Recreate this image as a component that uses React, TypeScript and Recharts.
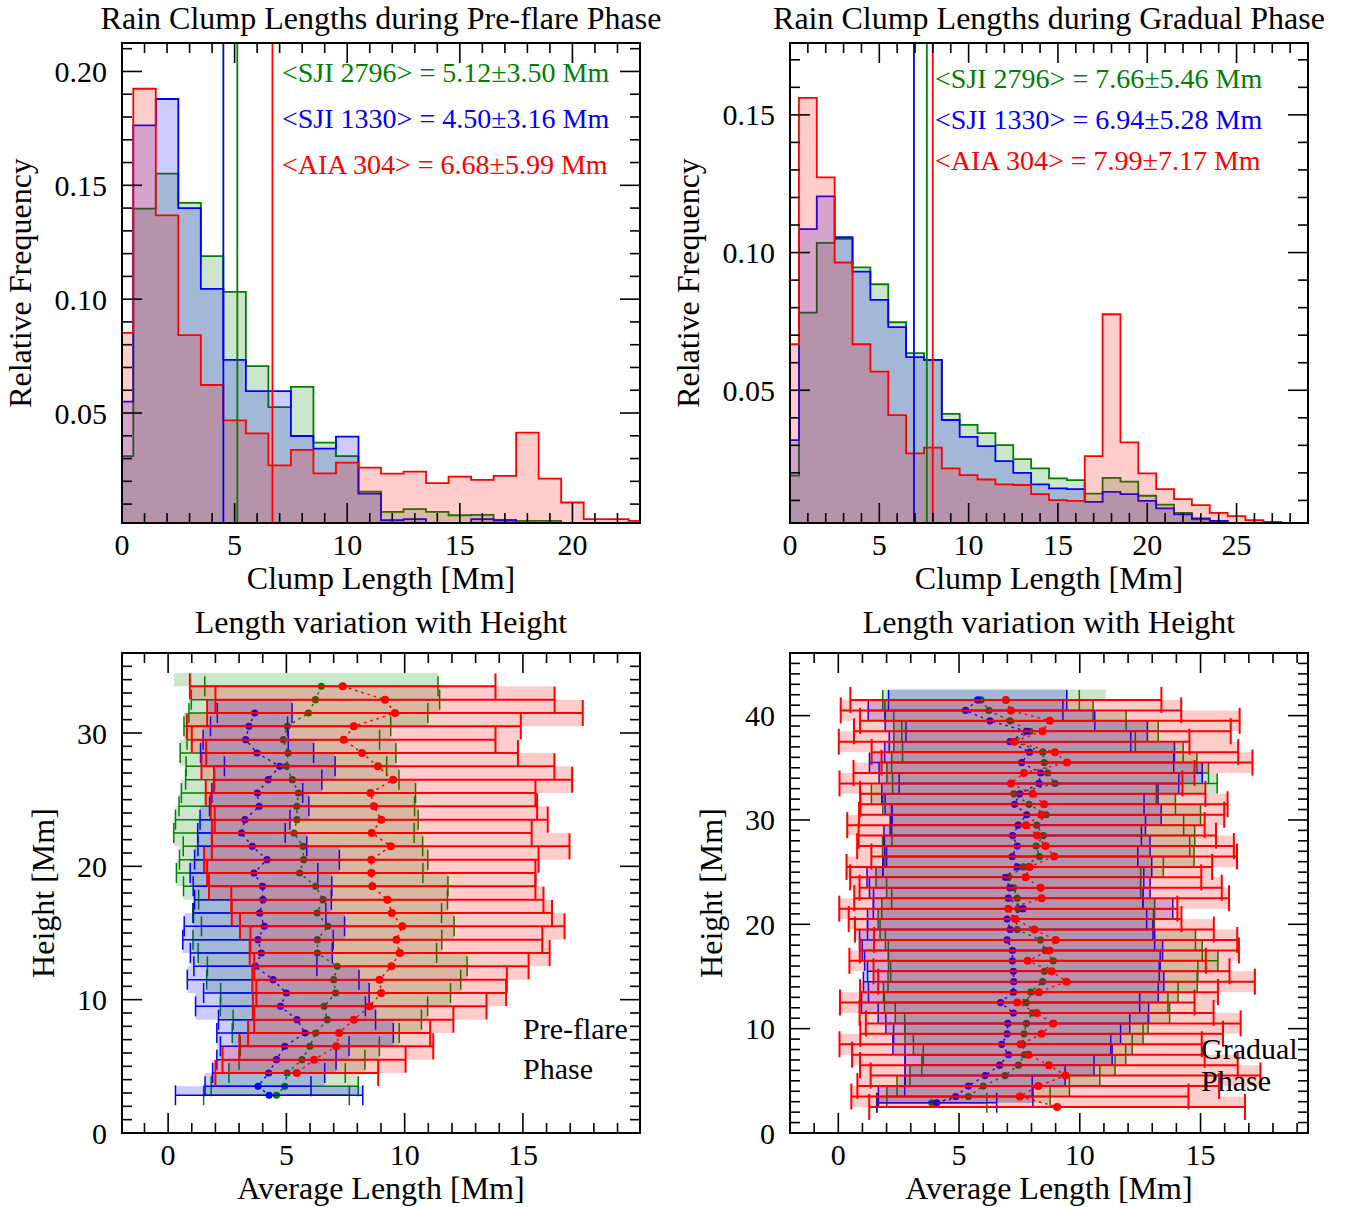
import React from 'react';
import { ComposedChart, Area, XAxis, YAxis, ReferenceLine, ReferenceArea, Scatter, ErrorBar } from 'recharts';

const RED = '#ff0000';
const BLUE = '#0000ff';
const GREEN = '#008000';
const SERIF = '"Liberation Serif", "Times New Roman", Times, serif';

// ---------------- Histogram data (bins centred on integer Mm, width 1 Mm) ----------------
const preGreen = [0.0311, 0.1398, 0.1551, 0.1423, 0.1189, 0.1032, 0.0706, 0.0526, 0.0615, 0.0370, 0.0311, 0.0155, 0.0066, 0.0078, 0.0066, 0.0051, 0.0053, 0.0029, 0.0026, 0.0026];
const preBlue = [0.0550, 0.1763, 0.1879, 0.1400, 0.1045, 0.0733, 0.0596, 0.0596, 0.0399, 0.0344, 0.0396, 0.0146, 0.0029, 0.0034, 0.0010, 0.0010, 0.0034, 0.0029];
const preRed = [0.0852, 0.1924, 0.1368, 0.0842, 0.0623, 0.0468, 0.0411, 0.0270, 0.0338, 0.0235, 0.0282, 0.0260, 0.0234, 0.0243, 0.0192, 0.0221, 0.0206, 0.0224, 0.0414, 0.0212, 0.0107, 0.0034, 0.0034, 0.0026];

const gradGreen = [0.0190, 0.0782, 0.1035, 0.1050, 0.0946, 0.0885, 0.0747, 0.0635, 0.0610, 0.0414, 0.0374, 0.0344, 0.0301, 0.0250, 0.0216, 0.0180, 0.0174, 0.0125, 0.0182, 0.0168, 0.0117, 0.0085, 0.0055, 0.0031, 0.0026];
const gradBlue = [0.0319, 0.1085, 0.1204, 0.1056, 0.0931, 0.0828, 0.0729, 0.0620, 0.0610, 0.0392, 0.0331, 0.0297, 0.0243, 0.0200, 0.0158, 0.0144, 0.0141, 0.0095, 0.0131, 0.0123, 0.0098, 0.0071, 0.0049, 0.0035, 0.0026];
const gradRed = [0.0667, 0.1562, 0.1273, 0.0964, 0.0667, 0.0568, 0.0410, 0.0271, 0.0292, 0.0216, 0.0192, 0.0176, 0.0158, 0.0156, 0.0123, 0.0101, 0.0098, 0.0261, 0.0776, 0.0311, 0.0198, 0.0141, 0.0105, 0.0083, 0.0055, 0.0043, 0.0028, 0.0022];

const preMeans = { green: 5.12, blue: 4.50, red: 6.68 };
const gradMeans = { green: 7.66, blue: 6.94, red: 7.99 };
const preNotes = ['<SJI 2796> = 5.12±3.50 Mm', '<SJI 1330> = 4.50±3.16 Mm', '<AIA 304> = 6.68±5.99 Mm'];
const gradNotes = ['<SJI 2796> = 7.66±5.46 Mm', '<SJI 1330> = 6.94±5.28 Mm', '<AIA 304> = 7.99±7.17 Mm'];

// ---------------- Height profiles: [height, mean length, std] ----------------
const preGreenTop = [34.5, 5.8, 5.55];
const preGreenRows = [
  [33.5, 6.48, 4.93], [32.5, 6.23, 5.25], [31.5, 5.93, 5.05], [30.5, 5.04, 4.37], [29.5, 4.87, 4.07],
  [28.5, 5.07, 4.56], [27.5, 5.00, 4.24], [26.5, 5.25, 4.51], [25.5, 5.51, 4.95], [24.5, 5.44, 4.98],
  [23.5, 5.44, 5.13], [22.5, 5.32, 5.08], [21.5, 5.70, 5.06], [20.5, 5.73, 5.25], [19.5, 5.56, 5.21],
  [18.5, 6.24, 5.59], [17.5, 6.55, 5.26], [16.5, 6.30, 5.26], [15.5, 6.75, 5.34], [14.5, 6.31, 5.26],
  [13.5, 6.31, 5.04], [12.5, 7.15, 5.49], [11.5, 7.00, 5.37], [10.5, 7.08, 4.86], [9.5, 6.59, 4.38],
  [8.5, 6.73, 3.98], [7.5, 6.24, 3.53], [6.5, 5.99, 2.94], [5.5, 5.66, 2.66], [4.5, 5.03, 2.46],
  [3.5, 4.93, 3.11], [2.83, 4.58, 3.08],
];
const preBlueTop = [32.5, 3.45, 1.75];
const preBlueRows = [
  [31.5, 3.66, 1.58], [30.5, 3.42, 1.63], [29.5, 3.28, 1.80], [28.5, 3.76, 2.39], [27.5, 4.72, 2.34],
  [26.5, 4.23, 2.27], [25.5, 3.77, 1.92], [24.5, 3.85, 2.10], [23.5, 3.25, 1.90], [22.5, 3.10, 1.85],
  [21.5, 3.56, 2.30], [20.5, 4.18, 3.06], [19.5, 3.63, 2.70], [18.5, 3.99, 2.93], [17.5, 4.01, 2.89],
  [16.5, 3.87, 2.80], [15.5, 4.07, 3.39], [14.5, 3.80, 3.18], [13.5, 3.94, 3.00], [12.5, 3.69, 2.60],
  [11.5, 4.44, 3.63], [10.5, 5.00, 3.50], [9.5, 4.75, 3.59], [8.5, 5.45, 3.32], [7.5, 5.79, 3.73],
  [6.5, 4.93, 2.72], [5.5, 4.58, 2.52], [4.5, 4.25, 2.37], [3.5, 3.80, 2.24], [2.83, 4.27, 3.96],
];
const preRedRows = [
  [33.5, 7.38, 6.46], [32.5, 9.17, 7.17], [31.5, 9.59, 7.94], [30.5, 7.85, 7.06], [29.5, 7.42, 6.42],
  [28.5, 8.20, 6.59], [27.5, 8.87, 7.46], [26.5, 9.51, 7.57], [25.5, 8.56, 6.97], [24.5, 8.70, 6.90],
  [23.5, 9.01, 7.04], [22.5, 8.61, 6.76], [21.5, 9.41, 7.56], [20.5, 8.59, 7.07], [19.5, 8.59, 6.94],
  [18.5, 8.63, 6.90], [17.5, 9.27, 6.60], [16.5, 9.46, 6.77], [15.5, 9.90, 6.86], [14.5, 9.65, 6.17],
  [13.5, 9.79, 6.34], [12.5, 9.44, 5.80], [11.5, 8.94, 5.38], [10.5, 9.01, 5.28], [9.5, 8.52, 4.94],
  [8.5, 7.85, 4.21], [7.5, 7.23, 3.85], [6.5, 7.11, 4.10], [5.5, 6.17, 3.87], [4.5, 5.44, 3.44],
];

const gradGreenTop = [42.5, 6.5, 4.58];
const gradGreenRows = [
  [41.5, 5.91, 4.07], [40.5, 6.24, 4.31], [39.5, 7.11, 4.81], [38.5, 7.94, 5.31], [37.5, 7.30, 5.00],
  [36.5, 8.47, 5.81], [35.5, 8.53, 6.32], [34.5, 8.67, 6.66], [33.5, 8.97, 6.72], [32.5, 7.27, 5.90],
  [31.5, 7.90, 6.06], [30.5, 8.60, 6.40], [29.5, 8.22, 6.08], [28.5, 8.49, 6.27], [27.5, 8.19, 6.36],
  [26.5, 8.33, 6.40], [25.5, 7.66, 5.80], [24.5, 7.04, 5.48], [23.5, 7.26, 5.26], [22.5, 7.41, 5.20],
  [21.5, 7.45, 5.65], [20.5, 7.35, 5.70], [19.5, 7.41, 5.68], [18.5, 8.37, 6.42], [17.5, 8.57, 6.50],
  [16.5, 8.90, 6.82], [15.5, 8.53, 6.36], [14.5, 8.46, 6.40], [13.5, 7.97, 6.10], [12.5, 7.78, 5.87],
  [11.5, 8.04, 5.68], [10.5, 7.79, 5.04], [9.5, 7.69, 4.93], [8.5, 7.64, 4.53], [7.5, 7.71, 4.19],
  [6.5, 7.46, 4.00], [5.5, 6.90, 3.93], [4.5, 6.00, 3.57], [3.5, 5.39, 3.38], [2.9, 3.87, 2.28],
];
const gradBlueTop = [42.5, 5.77, 3.69];
const gradBlueRows = [
  [41.5, 5.77, 3.69], [40.5, 5.27, 4.03], [39.5, 6.28, 4.34], [38.5, 7.80, 5.00], [37.5, 7.11, 5.00],
  [36.5, 7.92, 6.00], [35.5, 7.59, 6.30], [34.5, 8.38, 6.69], [33.5, 8.31, 5.79], [32.5, 7.52, 5.72],
  [31.5, 7.30, 5.36], [30.5, 7.80, 5.57], [29.5, 7.45, 5.27], [28.5, 7.22, 5.33], [27.5, 7.41, 5.50],
  [26.5, 7.20, 5.20], [25.5, 7.41, 5.57], [24.5, 6.92, 5.73], [23.5, 7.10, 5.81], [22.5, 7.04, 5.58],
  [21.5, 7.65, 6.20], [20.5, 6.99, 5.78], [19.5, 7.12, 5.91], [18.5, 6.99, 6.11], [17.5, 7.21, 6.22],
  [16.5, 7.21, 6.12], [15.5, 7.25, 6.04], [14.5, 7.26, 6.22], [13.5, 7.25, 6.00], [12.5, 6.72, 5.76],
  [11.5, 7.25, 5.60], [10.5, 7.02, 5.05], [9.5, 6.99, 4.70], [8.5, 6.77, 4.51], [7.5, 7.05, 4.29],
  [6.5, 6.68, 3.91], [5.5, 6.08, 3.31], [4.5, 5.39, 2.64], [3.5, 4.86, 3.20], [2.9, 4.08, 2.48],
];
const gradRedRows = [
  [41.5, 6.94, 6.44], [40.5, 7.15, 7.05], [39.5, 8.76, 7.86], [38.5, 8.45, 7.80], [37.5, 7.28, 7.26],
  [36.5, 8.97, 7.59], [35.5, 9.47, 7.68], [34.5, 7.69, 7.06], [33.5, 7.15, 7.10], [32.5, 8.05, 7.15],
  [31.5, 8.52, 7.60], [30.5, 8.42, 7.56], [29.5, 7.77, 7.40], [28.5, 8.24, 7.40], [27.5, 8.58, 7.80],
  [26.5, 8.94, 7.57], [25.5, 7.91, 7.57], [24.5, 7.76, 7.27], [23.5, 8.38, 7.50], [22.5, 8.42, 7.76],
  [21.5, 7.04, 7.00], [20.5, 7.32, 6.89], [19.5, 8.12, 7.43], [18.5, 9.00, 7.52], [17.5, 8.74, 7.85],
  [16.5, 7.84, 7.38], [15.5, 8.83, 7.37], [14.5, 9.45, 7.80], [13.5, 8.31, 7.41], [12.5, 7.41, 7.34],
  [11.5, 8.21, 7.33], [10.5, 8.90, 7.76], [9.5, 8.42, 7.51], [8.5, 7.55, 7.50], [7.5, 7.87, 7.30],
  [6.5, 8.72, 7.82], [5.5, 9.41, 8.07], [4.5, 8.28, 7.49], [3.5, 7.52, 6.98], [2.5, 9.06, 7.78],
];

// ---------------- helpers ----------------
const range = (a: number, b: number, step = 1) => {
  const out: number[] = [];
  const n = Math.round((b - a) / step);
  for (let i = 0; i <= n; i++) out.push(Math.round((a + i * step) * 1000) / 1000);
  return out;
};

const histTable = (green: number[], blue: number[], red: number[]) => {
  const n = Math.max(green.length, blue.length, red.length);
  const rows: any[] = [];
  for (let k = 0; k <= n; k++) {
    rows.push({ x: k - 0.5, green: green[k] ?? 0, blue: blue[k] ?? 0, red: red[k] ?? 0 });
  }
  return rows;
};

// band strips: union of the ±1 Mm boxes of neighbouring rows
const bandStrips = (rows: number[][]) => {
  const out: any[] = [];
  for (let i = 0; i < rows.length - 1; i++) {
    const a = rows[i];
    const b = rows[i + 1];
    out.push({
      y1: b[0], y2: a[0],
      x1: Math.min(a[1] - a[2], b[1] - b[2]),
      x2: Math.max(a[1] + a[2], b[1] + b[2]),
    });
  }
  return out;
};

const toPoints = (rows: number[][]) => rows.map((r) => ({ x: r[1], y: r[0], s: r[2] }));

const TICK_W = 1.6;

// x ticks: drawn inward at the bottom edge and mirrored at the top edge of the frame
const mkXTick = (plotTop: number, isMajor: (v: number) => boolean, fmt: (v: number) => string) => (p: any) => {
  const { x, y, payload } = p;
  const v = payload.value;
  const major = isMajor(v);
  const len = major ? 20 : 10;
  return (
    <g>
      <line x1={x} y1={y} x2={x} y2={y - len} stroke="#000" strokeWidth={TICK_W} />
      <line x1={x} y1={plotTop} x2={x} y2={plotTop + len} stroke="#000" strokeWidth={TICK_W} />
      {major && (
        <text x={x} y={y + 21} textAnchor="middle" dominantBaseline="central" fontFamily={SERIF} fontSize={30} fill="#000">{fmt(v)}</text>
      )}
    </g>
  );
};

// y ticks: drawn inward at the left edge and mirrored at the right edge
const mkYTick = (plotRight: number, isMajor: (v: number) => boolean, fmt: (v: number) => string) => (p: any) => {
  const { x, y, payload } = p;
  const v = payload.value;
  const major = isMajor(v);
  const len = major ? 20 : 10;
  return (
    <g>
      <line x1={x} y1={y} x2={x + len} y2={y} stroke="#000" strokeWidth={TICK_W} />
      <line x1={plotRight} y1={y} x2={plotRight - len} y2={y} stroke="#000" strokeWidth={TICK_W} />
      {major && (
        <text x={x - 15} y={y} textAnchor="end" dominantBaseline="central" fontFamily={SERIF} fontSize={30} fill="#000">{fmt(v)}</text>
      )}
    </g>
  );
};

const axisCommon = { tickSize: 0, tickMargin: 0, tickLine: false, axisLine: false, interval: 0 as const, allowDataOverflow: true, type: 'number' as const };

const Txt = ({ x, y, size, color = '#000', anchor = 'middle', rotate = false, children }: any) => {
  const tx = anchor === 'middle' ? '-50%' : anchor === 'end' ? '-100%' : '0%';
  return (
    <div
      style={{
        position: 'absolute', left: x, top: y,
        transform: `translate(${tx}, -50%)${rotate ? ' rotate(-90deg)' : ''}`,
        fontFamily: SERIF, fontSize: size, color, whiteSpace: 'pre', lineHeight: 1,
      }}
    >
      {children}
    </div>
  );
};

const Frame = ({ xDomain, yDomain }: any) => (
  <ReferenceArea x1={xDomain[0]} x2={xDomain[1]} y1={yDomain[0]} y2={yDomain[1]}
    fill="none" stroke="#000" strokeWidth={2} ifOverflow="visible" zIndex={900} />
);

const SERIES = [
  { key: 'green', color: GREEN },
  { key: 'blue', color: BLUE },
  { key: 'red', color: RED },
];

const chartMargin = (p: any) => ({ top: p.margin.top, right: p.margin.right, bottom: p.margin.bottom - 1, left: p.margin.left - 1 });

const HistPanel = (p: any) => {
  const table = histTable(p.green, p.blue, p.red);
  const xMajor = (v: number) => v % 5 === 0;
  const yMajor = (v: number) => Math.round(v * 100) % 5 === 0;
  const plotTop = p.margin.top;
  const plotRight = p.width - p.margin.right;
  return (
    <div style={{ position: 'absolute', left: p.left, top: p.top }}>
      <ComposedChart width={p.width} height={p.height} data={table} margin={chartMargin(p)}>
        <XAxis {...axisCommon} dataKey="x" domain={p.xDomain} ticks={p.xTicks} height={1}
          tick={mkXTick(plotTop, xMajor, (v) => String(v))} />
        <YAxis {...axisCommon} domain={p.yDomain} ticks={p.yTicks} width={1}
          tick={mkYTick(plotRight, yMajor, (v) => v.toFixed(2))} />
        {SERIES.map((s, i) => (
          <Area key={s.key} type="stepAfter" dataKey={s.key} stroke={s.color} strokeWidth={1.8}
            fill={s.color} fillOpacity={0.2} baseValue={0} dot={false} activeDot={false}
            isAnimationActive={false} zIndex={101 + i} />
        ))}
        {SERIES.map((s, i) => (
          <ReferenceLine key={'m' + s.key} x={p.means[s.key]} stroke={s.color} strokeWidth={1.8}
            ifOverflow="hidden" zIndex={110 + i} />
        ))}
        {Frame({ xDomain: p.xDomain, yDomain: p.yDomain })}
      </ComposedChart>
    </div>
  );
};

const ProfilePanel = (p: any) => {
  const xMajor = (v: number) => v % 5 === 0;
  const yMajor = (v: number) => v % 10 === 0;
  const plotTop = p.margin.top;
  const plotRight = p.width - p.margin.right;
  const series = [
    { key: 'g', color: GREEN, rows: p.green, top: p.greenTop, r: 3.6, cap: 10, w: 1.5 },
    { key: 'b', color: BLUE, rows: p.blue, top: p.blueTop, r: 3.6, cap: 10, w: 1.5 },
    { key: 'r', color: RED, rows: p.red, top: p.redTop, r: 4, cap: 13, w: 2 },
  ];
  return (
    <div style={{ position: 'absolute', left: p.left, top: p.top }}>
      <ComposedChart width={p.width} height={p.height} margin={chartMargin(p)}>
        <XAxis {...axisCommon} dataKey="x" domain={p.xDomain} ticks={p.xTicks} height={1}
          tick={mkXTick(plotTop, xMajor, (v) => String(v))} />
        <YAxis {...axisCommon} dataKey="y" domain={p.yDomain} ticks={p.yTicks} width={1}
          tick={mkYTick(plotRight, yMajor, (v) => String(v))} />
        {series.flatMap((s, i) => {
          const bandRows = s.top ? [s.top, ...s.rows] : s.rows;
          const strips = bandStrips(bandRows).map((b, j) => (
            <ReferenceArea key={s.key + 'band' + j} x1={b.x1} x2={b.x2} y1={b.y1} y2={b.y2}
              fill={s.color} fillOpacity={0.2} stroke="none" ifOverflow="hidden" zIndex={101 + 2 * i} />
          ));
          const scatter = (
            <Scatter key={s.key + 'pts'} data={toPoints(s.rows)} fill={s.color} isAnimationActive={false}
              line={{ stroke: s.color, strokeWidth: 1.5, strokeDasharray: '2.5 4' }} lineType="joint"
              zIndex={102 + 2 * i}
              shape={(q: any) => <circle cx={q.cx} cy={q.cy} r={s.r} fill={s.color} />}>
              <ErrorBar dataKey="s" direction="x" width={s.cap} stroke={s.color} strokeWidth={s.w}
                isAnimationActive={false} zIndex={102 + 2 * i} />
            </Scatter>
          );
          return [...strips, scatter];
        })}
        {Frame({ xDomain: p.xDomain, yDomain: p.yDomain })}
      </ComposedChart>
    </div>
  );
};

export default function App() {
  const topMargin = { top: 43, bottom: 77 };
  const botMargin = { top: 53, bottom: 74 };
  return (
    <div style={{ position: 'absolute', left: 0, top: 0, width: 1353, height: 1207, background: '#fff', overflow: 'hidden' }}>
      <HistPanel left={0} top={0} width={676} height={600}
        margin={{ ...topMargin, left: 122, right: 36 }}
        green={preGreen} blue={preBlue} red={preRed} means={preMeans}
        xDomain={[0, 23]} xTicks={range(0, 23)} yDomain={[0.0017, 0.2125]} yTicks={range(0.01, 0.21, 0.01)} />
      <HistPanel left={676} top={0} width={677} height={600}
        margin={{ ...topMargin, left: 114, right: 45 }}
        green={gradGreen} blue={gradBlue} red={gradRed} means={gradMeans}
        xDomain={[0, 29]} xTicks={range(0, 29)} yDomain={[0.0018, 0.1761]} yTicks={range(0.01, 0.17, 0.01)} />
      <ProfilePanel left={0} top={600} width={676} height={607}
        margin={{ ...botMargin, left: 122, right: 36 }}
        green={preGreenRows} greenTop={preGreenTop} blue={preBlueRows} blueTop={preBlueTop} red={preRedRows}
        xDomain={[-1.95, 19.95]} xTicks={range(-1, 19)} yDomain={[0, 36]} yTicks={range(0, 36)} />
      <ProfilePanel left={676} top={600} width={677} height={607}
        margin={{ ...botMargin, left: 114, right: 45 }}
        green={gradGreenRows} greenTop={gradGreenTop} blue={gradBlueRows} blueTop={gradBlueTop} red={gradRedRows}
        xDomain={[-2, 19.45]} xTicks={range(-1, 19)} yDomain={[0, 46]} yTicks={range(0, 46)} />

      {/* titles */}
      <Txt x={381} y={18} size={32}>Rain Clump Lengths during Pre-flare Phase</Txt>
      <Txt x={1049} y={18} size={32}>Rain Clump Lengths during Gradual Phase</Txt>
      <Txt x={381} y={622} size={32}>Length variation with Height</Txt>
      <Txt x={1049} y={622} size={32}>Length variation with Height</Txt>

      {/* axis titles */}
      <Txt x={381} y={578} size={32}>Clump Length [Mm]</Txt>
      <Txt x={1049} y={578} size={32}>Clump Length [Mm]</Txt>
      <Txt x={381} y={1188} size={32}>Average Length [Mm]</Txt>
      <Txt x={1049} y={1188} size={32}>Average Length [Mm]</Txt>
      <Txt x={20} y={283} size={32} rotate>Relative Frequency</Txt>
      <Txt x={688} y={283} size={32} rotate>Relative Frequency</Txt>
      <Txt x={43} y={893} size={32} rotate>Height [Mm]</Txt>
      <Txt x={711} y={893} size={32} rotate>Height [Mm]</Txt>

      {/* annotations */}
      <Txt x={282} y={73} size={28} color={GREEN} anchor="start">{preNotes[0]}</Txt>
      <Txt x={282} y={119} size={28} color={BLUE} anchor="start">{preNotes[1]}</Txt>
      <Txt x={282} y={165} size={28} color={RED} anchor="start">{preNotes[2]}</Txt>
      <Txt x={935} y={79} size={28} color={GREEN} anchor="start">{gradNotes[0]}</Txt>
      <Txt x={935} y={120} size={28} color={BLUE} anchor="start">{gradNotes[1]}</Txt>
      <Txt x={935} y={161} size={28} color={RED} anchor="start">{gradNotes[2]}</Txt>

      <Txt x={523} y={1029} size={30} anchor="start">Pre-flare</Txt>
      <Txt x={523} y={1069} size={30} anchor="start">Phase</Txt>
      <Txt x={1201} y={1049} size={30} anchor="start">Gradual</Txt>
      <Txt x={1201} y={1081} size={30} anchor="start">Phase</Txt>
    </div>
  );
}
